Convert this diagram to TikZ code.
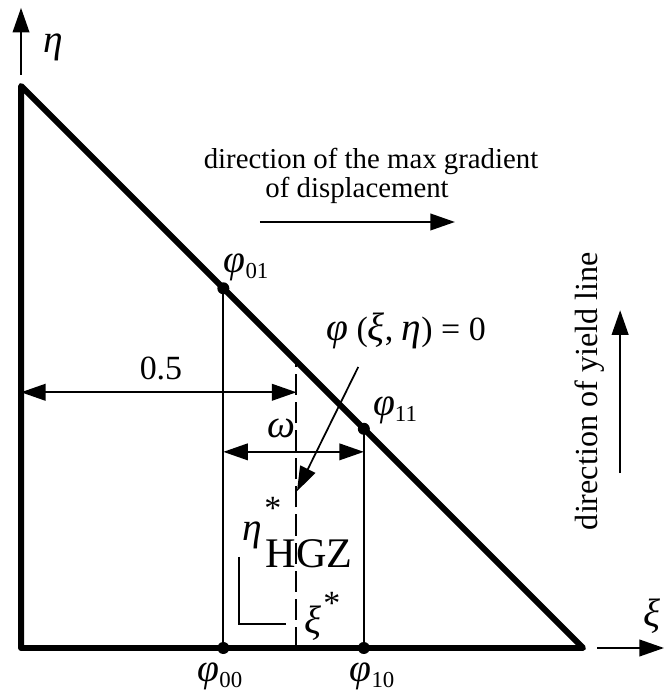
\documentclass[tikz,border=0pt]{standalone}
\usepackage{fontspec}
\setmainfont{Liberation Serif}
\usetikzlibrary{arrows.meta}

% Greek letter, a little larger, italic
\newcommand{\gr}[1]{{\fontsize{22.5pt}{24pt}\selectfont\textit{#1}}}
% Greek letter with a lowered small index
\newcommand{\gsub}[2]{\gr{#1}\raisebox{-0.2em}{\fontsize{13pt}{13pt}\selectfont #2}}

\tikzset{
    edge/.style={line width=3.4pt, line join=round},
    thinline/.style={line width=1pt},
    dashline/.style={line width=1.1pt, dash pattern=on 12pt off 4pt},
    arr/.style={line width=1pt, -{Triangle[length=14pt, width=9.5pt]}},
    dimarr/.style={line width=1pt, {Triangle[length=14pt, width=9.5pt]}-{Triangle[length=14pt, width=9.5pt]}},
    lab/.style={inner sep=0pt, font=\fontsize{19.3pt}{22pt}\selectfont},
    txt/.style={inner sep=0pt, font=\fontsize{16.4pt}{20pt}\selectfont}
}

\begin{document}
\begin{tikzpicture}[x=11.24cm, y=11.24cm]
    % Frame of the picture
    \useasboundingbox (-0.0374,-0.0854) rectangle (1.1459,1.1530);

    % Corners of the triangle
    \coordinate (O) at (0,0);
    \coordinate (A) at (1,0);
    \coordinate (B) at (0,1);

    % Nodal points
    \coordinate (p00) at (0.36,0);
    \coordinate (p01) at (0.36,0.64);
    \coordinate (p10) at (0.61,0);
    \coordinate (p11) at (0.61,0.39);

    % Triangle
    \draw[edge] (B) -- (O) -- (A) -- cycle;

    % Axes
    \coordinate (e0) at (0,1.02);
    \coordinate (e1) at (0,1.139);
    \coordinate (x0) at (1.025,0);
    \coordinate (x1) at (1.144,0);
    \draw[arr] (e0) -- (e1);
    \draw[arr] (x0) -- (x1);
    \node[lab] (eta) at (0.057,1.068) {\gr{η}};
    \node[lab] (xi) at (1.123,0.057) {\gr{ξ}};

    % Vertical lines through the nodal points
    \draw[thinline] (p00) -- (p01);
    \draw[thinline] (p10) -- (p11);

    % Dashed line at xi*
    \coordinate (s0) at (0.49,0);
    \coordinate (s1) at (0.49,0.51);
    \draw[dashline] (s0) -- (s1);

    % Nodal points and their labels
    \foreach \p in {p00,p01,p10,p11}
        \fill (\p) circle [radius=0.12cm];
    \node[lab] (l00) at (0.354,-0.0498) {\gsub{φ}{00}};
    \node[lab] (l10) at (0.6246,-0.0498) {\gsub{φ}{10}};
    \node[lab] (l01) at (0.4004,0.678) {\gsub{φ}{01}};
    \node[lab] (l11) at (0.6655,0.4235) {\gsub{φ}{11}};

    % Dimension 0.5
    \coordinate (a1) at (0,0.455);
    \coordinate (a2) at (0.49,0.455);
    \draw[dimarr] (a1) -- (a2);
    \node[lab, anchor=base] (half) at (0.249,0.477) {0.5};

    % Dimension omega
    \coordinate (w1) at (0.36,0.349);
    \coordinate (w2) at (0.61,0.349);
    \draw[dimarr] (w1) -- (w2);
    \node[lab, anchor=base] (om) at (0.4635,0.3754) {\gr{ω}};

    % Yield line
    \node[lab, anchor=base] (phi) at (0.685,0.548) {\gr{φ} (\gr{ξ}, \gr{η}) = 0};
    \coordinate (l0) at (0.6,0.5);
    \coordinate (l1) at (0.491,0.279);
    \draw[arr] (l0) -- (l1);

    % eta*_HGZ and xi*
    \node[lab] (etas) at (0.411,0.201) {\gr{η}};
    \node[lab] (etast) at (0.448,0.249) {*};
    \node[inner sep=0pt, anchor=base, font=\fontsize{24pt}{26pt}\selectfont] (hgz) at (0.513,0.144) {HGZ};
    \node[lab] (xis) at (0.52,0.0445) {\gr{ξ}};
    \node[lab] (xist) at (0.553,0.08) {*};
    \coordinate (b0) at (0.388,0.162);
    \coordinate (b1) at (0.388,0.0427);
    \coordinate (b2) at (0.4715,0.0427);
    \draw[thinline] (b0) -- (b1) -- (b2);

    % Direction of the max gradient
    \node[txt, anchor=base] (gr1) at (0.6228,0.854) {direction of the max gradient};
    \node[txt, anchor=base] (gr2) at (0.598,0.8007) {of displacement};
    \coordinate (g0) at (0.425,0.758);
    \coordinate (g1) at (0.772,0.758);
    \draw[arr] (g0) -- (g1);

    % Direction of yield line
    \node[txt, rotate=90, font=\fontsize{18.3pt}{20pt}\selectfont] (yl) at (1.0125,0.457) {direction of yield line};
    \coordinate (y0) at (1.066,0.311);
    \coordinate (y1) at (1.066,0.601);
    \draw[arr] (y0) -- (y1);
\end{tikzpicture}
\end{document}
